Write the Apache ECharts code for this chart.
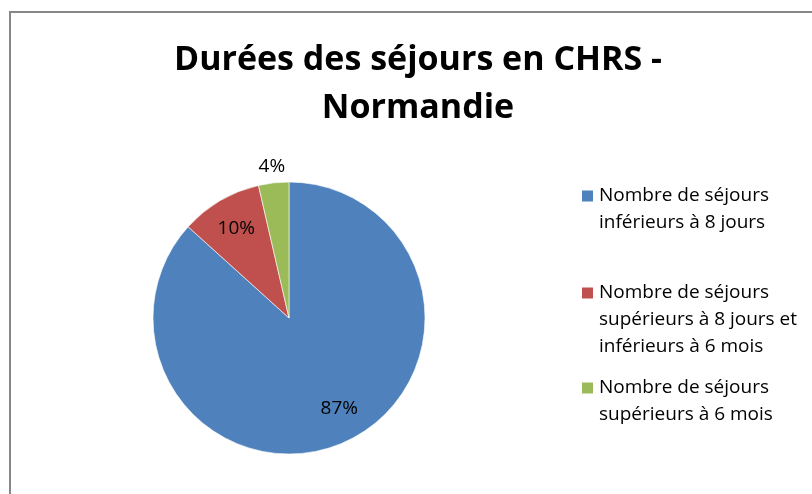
<!DOCTYPE html>
<html><head><meta charset="utf-8">
<script src="https://cdn.jsdelivr.net/npm/echarts@6/dist/echarts.min.js"></script>
<style>html,body{margin:0;padding:0;background:#fff}#c{width:812px;height:494px}</style>
</head><body><div id="c"></div>
<script>
const titleText = 'Durées des séjours en CHRS -\nNormandie';
const categories = [
  'Nombre de séjours\ninférieurs à 8 jours',
  'Nombre de séjours\nsupérieurs à 8 jours et\ninférieurs à 6 mois',
  'Nombre de séjours\nsupérieurs à 6 mois'
];
const values = [86.7, 9.7, 3.6];

const colors = ['#4F81BD', '#C0504D', '#9BBB59'];
const FONT = '"Open Sans", Lato, sans-serif';
const CX = 289, CY = 318, R = 136;
const labelRadius = [104, 104, 152];
const labelAngleShift = [-5, 0, 0];
const legendIconCenters = [196, 293, 388];
const LINE_H = 27;

const chart = echarts.init(document.getElementById('c'), null, {renderer: 'canvas'});
chart.setOption({
  animation: false,
  backgroundColor: '#fff',
  graphic: [{
    type: 'rect', silent: true, z: -10,
    shape: {x: 10, y: 12, width: 900, height: 600},
    style: {fill: '#fff', stroke: '#878787', lineWidth: 2}
  }],
  title: {
    text: titleText, left: 418, top: 36, textAlign: 'center', padding: 0,
    textStyle: {fontFamily: FONT, fontWeight: 'bold', fontSize: 34, lineHeight: 48, color: '#000'}
  },
  legend: categories.map((name, i) => {
    const lines = name.split('\n').length;
    return {
      data: [name], left: 580, top: legendIconCenters[i] - (2 * lines - 1) * LINE_H / 2, orient: 'vertical',
      padding: 0, itemWidth: 13, itemHeight: 13, itemGap: 0, icon: 'rect', selectedMode: false,
      formatter: n => '\n'.repeat(lines - 1) + n,
      textStyle: {fontFamily: FONT, fontSize: 19, lineHeight: LINE_H, color: '#000'}
    };
  }),
  series: [{
    type: 'pie', center: [CX, CY], radius: R, startAngle: 90, clockwise: true,
    silent: true, avoidLabelOverlap: false,
    data: categories.map((n, i) => ({name: n, value: values[i], itemStyle: {color: colors[i]}})),
    itemStyle: {borderColor: '#fff', borderWidth: 0.6},
    label: {show: true, position: 'inside', color: '#000', fontFamily: FONT, fontSize: 19,
      formatter: p => Math.round(p.percent) + '%'},
    labelLine: {show: false},
    emphasis: {disabled: true},
    labelLayout: function (params) {
      const r = params.labelRect;
      const mx = r.x + r.width / 2, my = r.y + r.height / 2;
      const vx = mx - CX, vy = my - CY;
      const ang = Math.atan2(vy, vx) + labelAngleShift[params.dataIndex] * Math.PI / 180;
      const rad = labelRadius[params.dataIndex];
      return {dx: CX + rad * Math.cos(ang) - mx, dy: CY + rad * Math.sin(ang) - my};
    }
  }]
});
</script></body></html>
